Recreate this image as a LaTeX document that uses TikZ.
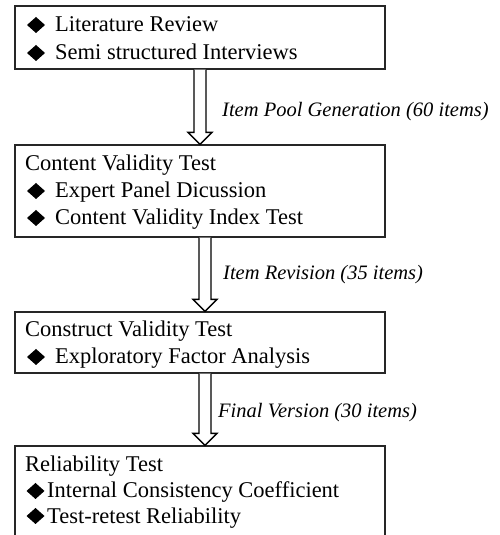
\documentclass[tikz,border=0pt]{standalone}
\usepackage{fontspec}
\setmainfont{Liberation Serif}
\usetikzlibrary{calc}
\tikzset{
  box/.style={draw=black!85, line width=1.3pt, inner sep=0pt, minimum width=370pt},
  txt/.style={anchor=base west, inner sep=0pt, font=\fontsize{22.5}{27}\selectfont},
  lbl/.style={anchor=base west, inner sep=0pt, font=\fontsize{20.5}{24}\selectfont\itshape},
  barrow/.style={draw=black, line width=1.4pt, fill=white, line join=miter},
  dia/.style={fill=black}
}
\newcommand\blockarrow[3]{%
  \path let \p1=(#1.south), \p2=(#2.north) in
    [barrow] ({#3pt-6pt},{\y1}) -- ({#3pt-6pt},{\y2+12pt}) -- ({#3pt-12pt},{\y2+12pt})
    -- ({#3pt},{\y2}) -- ({#3pt+12pt},{\y2+12pt}) -- ({#3pt+6pt},{\y2+12pt}) -- ({#3pt+6pt},{\y1});
}
\newcommand\diam[2]{\fill[dia] (#1-9,#2) -- (#1,#2+8) -- (#1+9,#2) -- (#1,#2-8) -- cycle;}
\begin{document}
\begin{tikzpicture}[x=1pt,y=1pt]
\useasboundingbox (0,0) rectangle (500,535);
\clip (0,0) rectangle (500,535);
\fill[white] (0,0) rectangle (500,535);
% boxes
\node[box, minimum height=63pt] (b1) at (200,497.5) {};
\node[box, minimum height=92pt] (b2) at (200,344) {};
\node[box, minimum height=61pt] (b3) at (200,192.5) {};
\node[box, minimum height=100pt] (b4) at (200,39) {};
% box 1
\diam{36}{510}\diam{36}{482}
\node[txt] (t11) at (55,503) {Literature Review};
\node[txt] (t12) at (55,475) {Semi structured Interviews};
% box 2
\node[txt] (t20) at (25,364) {Content Validity Test};
\diam{36}{344}\diam{36}{317}
\node[txt] (t21) at (55,337) {Expert Panel Dicussion};
\node[txt] (t22) at (55,310) {Content Validity Index Test};
% box 3
\node[txt] (t30) at (25,198) {Construct Validity Test};
\diam{36}{178}
\node[txt] (t31) at (55,171) {Exploratory Factor Analysis};
% box 4
\node[txt] (t40) at (25,63) {Reliability Test};
\diam{35.5}{44}\diam{35.5}{19}
\node[txt] (t41) at (47,37) {Internal Consistency Coefficient};
\node[txt] (t42) at (47,12) {Test-retest Reliability};
% arrows
\blockarrow{b1}{b2}{200}
\blockarrow{b2}{b3}{205}
\blockarrow{b3}{b4}{205}
% labels
\node[lbl] (l1) at (222,418) {Item Pool Generation (60 items)};
\node[lbl] (l2) at (223,255) {Item Revision (35 items)};
\node[lbl] (l3) at (218,117) {Final Version (30 items)};
\end{tikzpicture}
\end{document}
